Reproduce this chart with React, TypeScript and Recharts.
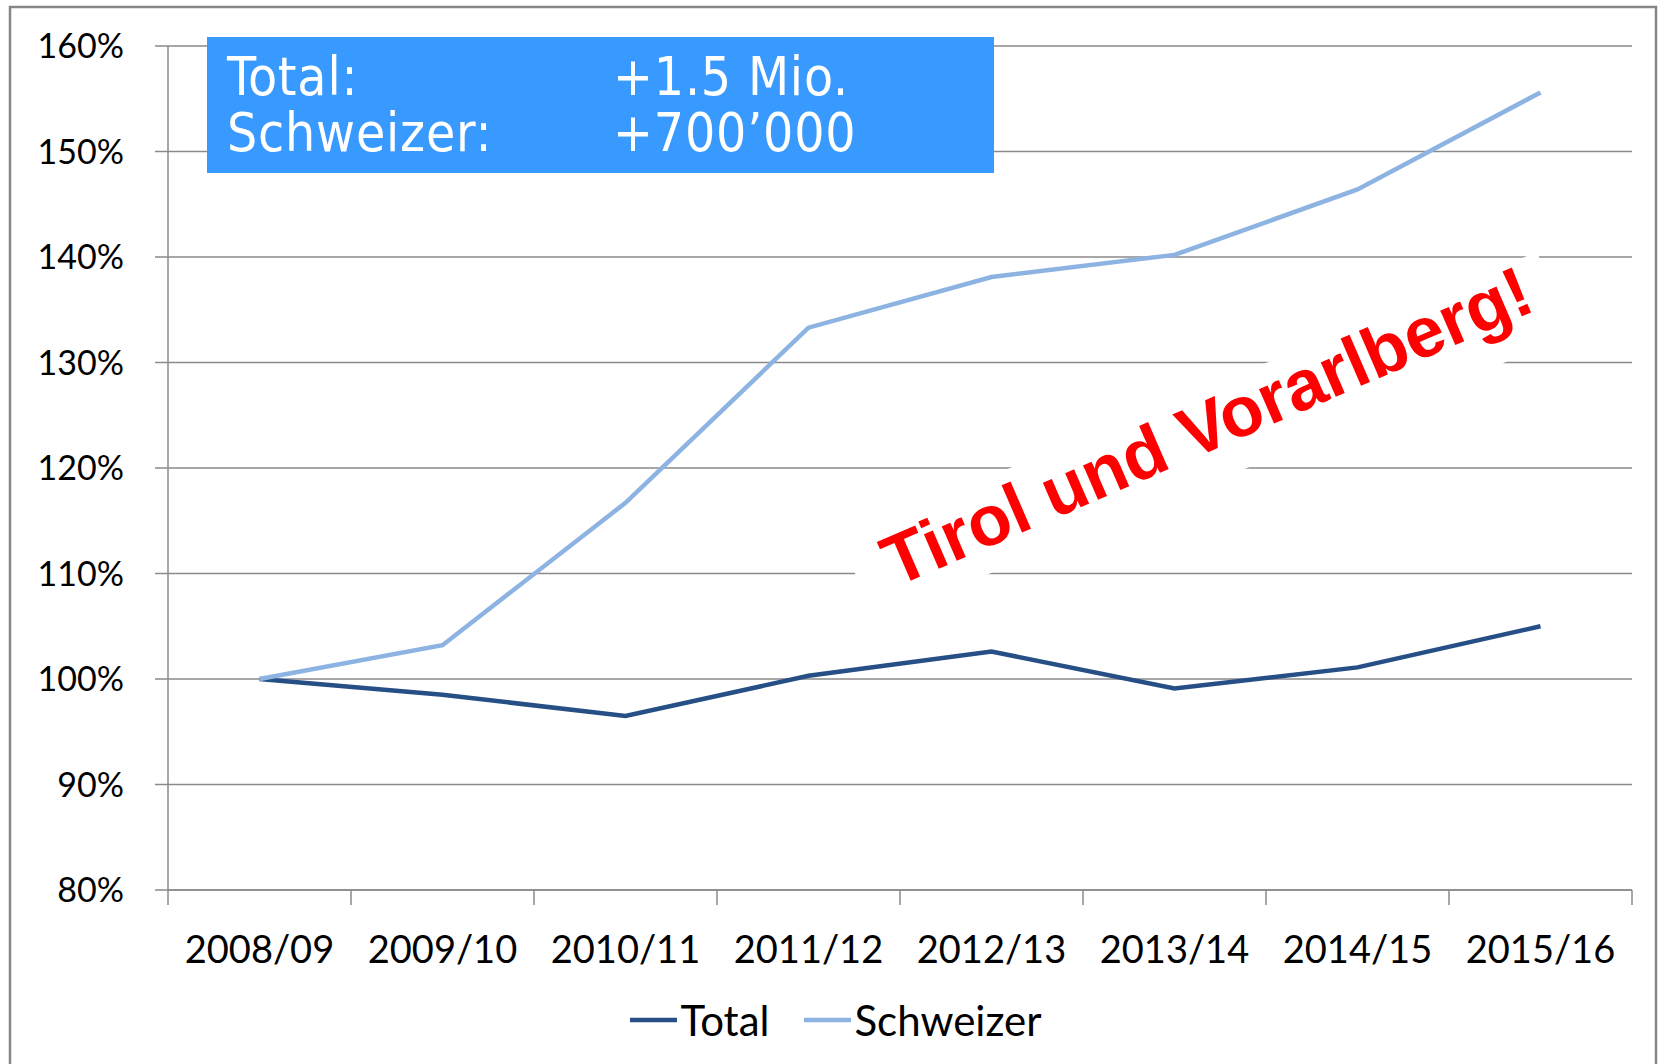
import React from 'react';
import { LineChart, Line, XAxis, YAxis, CartesianGrid, Legend } from 'recharts';

const categories = ['2008/09', '2009/10', '2010/11', '2011/12', '2012/13', '2013/14', '2014/15', '2015/16'];
const totalValues = [100, 98.5, 96.5, 100.3, 102.6, 99.1, 101.1, 105.0];
const schweizerValues = [100, 103.2, 116.7, 133.3, 138.1, 140.2, 146.4, 155.6];
const yTicks = [80, 90, 100, 110, 120, 130, 140, 150, 160];
const seriesNames = ['Total', 'Schweizer'];
const boxLabels = ['Total:', 'Schweizer:'];
const boxValues = ['+1.5 Mio.', '+700\u2019000'];
const annotation = 'Tirol und Vorarlberg!';

const W = 1658;
const H = 1064;
const GRID = '#8a8a8a';
const TOTAL_COLOR = '#264F86';
const SCHWEIZER_COLOR = '#8DB3E2';
const AXIS_FONT = "Lato, 'Open Sans', sans-serif";
const BOX_FONT = "'DejaVu Sans Condensed', 'DejaVu Sans', sans-serif";

const data = categories.map((c, i) => ({
  x: i + 0.5,
  cat: c,
  total: totalValues[i],
  schweizer: schweizerValues[i],
}));

const xTicks: number[] = [];
for (let i = 0; i <= categories.length * 2; i++) xTicks.push(i / 2);

const XTick = (props: any) => {
  const { x, y, payload } = props;
  const v = payload.value;
  if (Number.isInteger(v)) {
    return <line x1={x} x2={x} y1={y} y2={y + 15} stroke={GRID} strokeWidth={1.5} />;
  }
  const label = categories[Math.floor(v)];
  return (
    <text x={x} y={y + 73} textAnchor="middle" fill="#000" fontSize={38} fontFamily={AXIS_FONT}>
      {label}
    </text>
  );
};

const LegendContent = (props: any) => {
  const raw = props.payload || [];
  const items = [...raw].sort(
    (a: any, b: any) => seriesNames.indexOf(a.value) - seriesNames.indexOf(b.value)
  );
  return (
    <div
      style={{
        display: 'flex',
        justifyContent: 'center',
        alignItems: 'center',
        height: 60,
        paddingLeft: 14,
        fontFamily: AXIS_FONT,
        fontSize: 42,
        color: '#000',
      }}
    >
      {items.map((it: any, idx: number) => (
        <div key={idx} style={{ display: 'flex', alignItems: 'center', marginLeft: idx ? 35 : 0 }}>
          <svg width={47} height={10} style={{ marginRight: 3 }}>
            <line x1={0} x2={47} y1={5} y2={5} stroke={it.color} strokeWidth={4.5} />
          </svg>
          <span>{it.value}</span>
        </div>
      ))}
    </div>
  );
};

const cx = 1209;
const cy = 431;
const angle = -23.4;

export default function App() {
  return (
    <div style={{ position: 'absolute', left: 0, top: 0, width: W, height: H, background: '#fff', overflow: 'hidden' }}>
      <LineChart width={W} height={H} data={data} margin={{ top: 46, right: 26, left: 0, bottom: 14 }}>
        <CartesianGrid horizontal vertical={false} stroke={GRID} strokeWidth={1.5} />
        <XAxis
          dataKey="x"
          type="number"
          domain={[0, categories.length]}
          ticks={xTicks}
          interval={0}
          tickLine={false}
          tickSize={0}
          tickMargin={0}
          height={100}
          axisLine={{ stroke: GRID, strokeWidth: 1.5 }}
          tick={<XTick />}
          tickFormatter={() => ''}
        />
        <YAxis
          type="number"
          domain={[80, 160]}
          ticks={yTicks}
          interval={0}
          width={168}
          tickSize={13}
          tickMargin={31}
          stroke={GRID}
          axisLine={{ stroke: GRID, strokeWidth: 1.5 }}
          tickLine={{ stroke: GRID, strokeWidth: 1.5 }}
          tick={{ fill: '#000', fontSize: 34, fontFamily: AXIS_FONT }}
          tickFormatter={(v: number) => `${v}%`}
        />
        <Legend
          verticalAlign="bottom"
          align="center"
          content={<LegendContent />}
          wrapperStyle={{ left: 0, width: W, bottom: 14, height: 60 }}
        />
        <Line
          name={seriesNames[0]}
          dataKey="total"
          stroke={TOTAL_COLOR}
          strokeWidth={4.5}
          dot={false}
          activeDot={false}
          isAnimationActive={false}
        />
        <Line
          name={seriesNames[1]}
          dataKey="schweizer"
          stroke={SCHWEIZER_COLOR}
          strokeWidth={4.5}
          dot={false}
          activeDot={false}
          isAnimationActive={false}
        />
      </LineChart>
      <svg
        width={W}
        height={H}
        style={{ position: 'absolute', left: 0, top: 0, pointerEvents: 'none' }}
      >
        <rect x={10} y={7} width={1646} height={1080} fill="none" stroke="#868686" strokeWidth={2.5} />
        <rect x={207} y={37} width={787} height={136} fill="#3899FE" />
        {boxLabels.map((l, i) => (
          <text
            key={'l' + i}
            x={227}
            y={95 + i * 56}
            fill="#fff"
            fontSize={53}
            letterSpacing={0.8}
            fontFamily={BOX_FONT}
            style={{ fontStretch: 'condensed' }}
          >
            {l}
          </text>
        ))}
        {boxValues.map((l, i) => (
          <text
            key={'v' + i}
            x={613}
            y={95 + i * 56}
            fill="#fff"
            fontSize={53}
            letterSpacing={0.8}
            fontFamily={BOX_FONT}
            style={{ fontStretch: 'condensed' }}
          >
            {l}
          </text>
        ))}
        <g transform="translate(1203,431)">
          <g transform="rotate(-22.3)">
            <rect x={-376} y={-39} width={753} height={90} fill="#fff" />
          </g>
        </g>
        <g transform={`translate(${cx},${cy}) rotate(${angle})`}>
          <text
            x={0}
            y={19}
            textAnchor="middle"
            fill="#FF0000"
            fontSize={71}
            fontWeight="bold"
            fontFamily="'Liberation Sans', Arial, sans-serif"
          >
            {annotation}
          </text>
        </g>
      </svg>
    </div>
  );
}
